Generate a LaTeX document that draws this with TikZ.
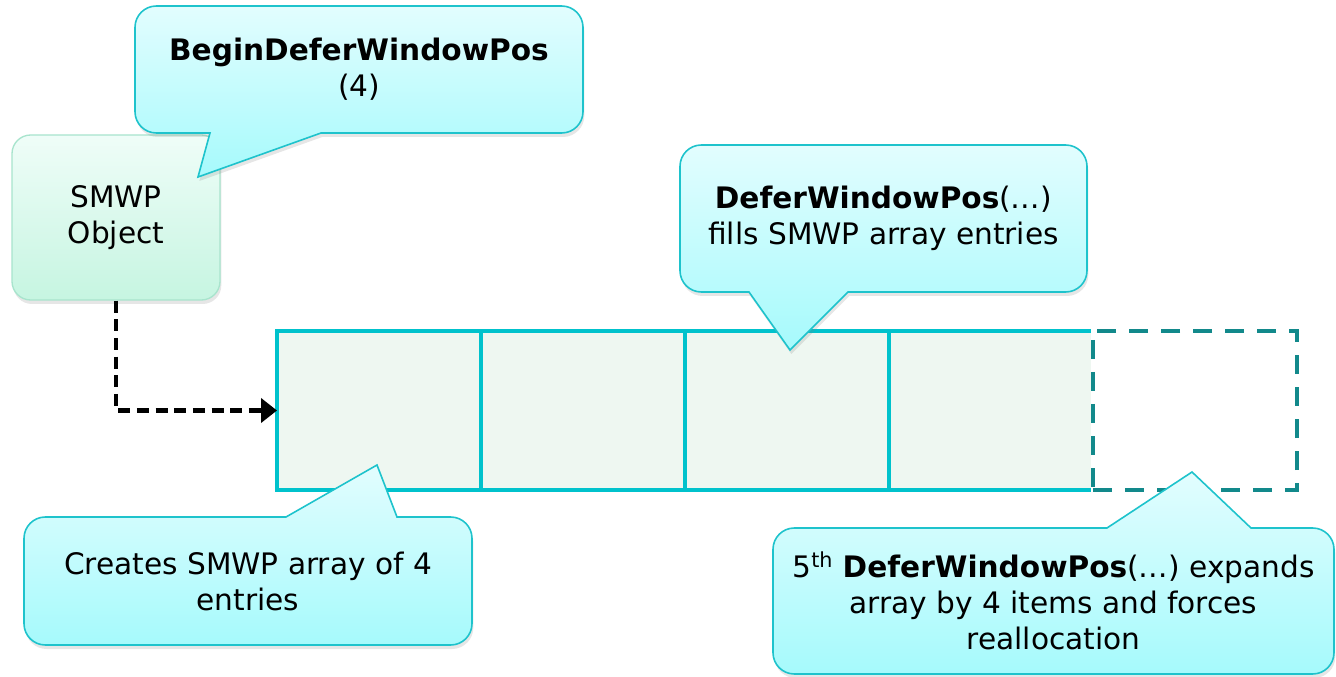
\documentclass[tikz,border=0pt]{standalone}
\usepackage{fontspec}
\setmainfont{DejaVu Sans}
\usetikzlibrary{positioning,arrows.meta,shadows}

\definecolor{bubbleline}{HTML}{1EC3CC}
\definecolor{bubbletop}{HTML}{E2FDFE}
\definecolor{bubblebot}{HTML}{A6FAFC}
\definecolor{objtop}{HTML}{EFFDF8}
\definecolor{objbot}{HTML}{C6F5E1}
\definecolor{objline}{HTML}{A8E4CD}
\definecolor{cellline}{HTML}{00C2CC}
\definecolor{cellfill}{HTML}{EEF7F1}
\definecolor{spareline}{HTML}{12898B}

\pgfdeclarelayer{front}
\pgfsetlayers{main,front}

\tikzset{
  bubble/.style={draw=bubbleline, line width=1.2pt, top color=bubbletop, bottom color=bubblebot,
    drop shadow={shadow xshift=1pt, shadow yshift=-3pt, opacity=0.2}},
  bubbletext/.style={align=center, inner sep=0pt, outer sep=0pt, font=\fontsize{22.2}{27}\selectfont},
  object/.style={rectangle, rounded corners=14pt, draw=objline, line width=1pt, top color=objtop, bottom color=objbot,
    align=center, font=\fontsize{22.2}{27}\selectfont, minimum width=156pt, minimum height=123.75pt,
    drop shadow={shadow xshift=1pt, shadow yshift=-3pt, opacity=0.2}},
  cell/.style={rectangle, draw=cellline, fill=cellfill, line width=3.2pt, inner sep=0pt, outer sep=0pt,
    minimum width=153pt, minimum height=119.25pt},
  spare/.style={rectangle, draw=spareline, line width=3.2pt, dash pattern=on 14pt off 10pt, inner sep=0pt, outer sep=0pt,
    minimum width=153pt, minimum height=119.25pt, preaction={draw=white, solid}},
  flow/.style={draw=black, line width=3.5pt, dash pattern=on 9pt off 5pt, -{Triangle[length=12pt,width=18pt]}}
}

% callout outline round a text node: pointer below / above
\newcommand{\calloutdown}[4]{%
  \path[bubble] (#1.north) [rounded corners=16pt] -- (#1.north east) -- (#1.south east) [sharp corners]
    -- (#3,0 |- #1.south) -- (#4) -- (#2,0 |- #1.south) [rounded corners=16pt]
    -- (#1.south west) -- (#1.north west) -- cycle;}
\newcommand{\calloutup}[4]{%
  \path[bubble] (#1.south) [rounded corners=16pt] -- (#1.south west) -- (#1.north west) [sharp corners]
    -- (#2,0 |- #1.north) -- (#4) -- (#3,0 |- #1.north) [rounded corners=16pt]
    -- (#1.north east) -- (#1.south east) -- cycle;}

\begin{document}
\begin{tikzpicture}[x=0.75pt, y=-0.75pt]
   \useasboundingbox (0,0) rectangle (1336,677);

   % SMWP array
   \node[cell]               (c1) at (379,410.5) {};
   \node[cell, right=0pt of c1] (c2) {};
   \node[cell, right=0pt of c2] (c3) {};
   \node[cell, right=0pt of c3] (c4) {};
   \node[spare, right=0pt of c4] (c5) {};

   \node[object] (smwp) at (116,217.5) {SMWP\\Object};
   \draw[flow] (smwp.south) |- (c1.west);

   % callout texts
   \begin{pgfonlayer}{front}
     \node[bubbletext, minimum width=336pt, minimum height=95.25pt] (begin) at (359,69.5)
       {\bfseries BeginDeferWindowPos\\(4)};
     \node[bubbletext, minimum width=305.25pt, minimum height=110.25pt] (defer) at (883.5,218.5)
       {{\bfseries DeferWindowPos}(…)\\fills SMWP array entries};
     \node[bubbletext, minimum width=336pt, minimum height=96pt] (creates) at (248,581)
       {Creates SMWP array of 4\\entries};
     \node[bubbletext, minimum width=420.75pt, minimum height=109.5pt] (fifth) at (1053.5,601)
       {5\textsuperscript{th} {\bfseries DeferWindowPos}(…) expands\\array by 4 items and forces\\reallocation};
   \end{pgfonlayer}

   \coordinate (begintip) at (198,177);
   \coordinate (defertip) at (790,350);
   \coordinate (createstip) at (377,465);
   \coordinate (fifthtip) at (1192,472);

   \calloutdown{begin}{210}{321}{begintip}
   \calloutdown{defer}{749}{848}{defertip}
   \calloutup{creates}{286}{397}{createstip}
   \calloutup{fifth}{1107}{1251}{fifthtip}
\end{tikzpicture}
\end{document}
